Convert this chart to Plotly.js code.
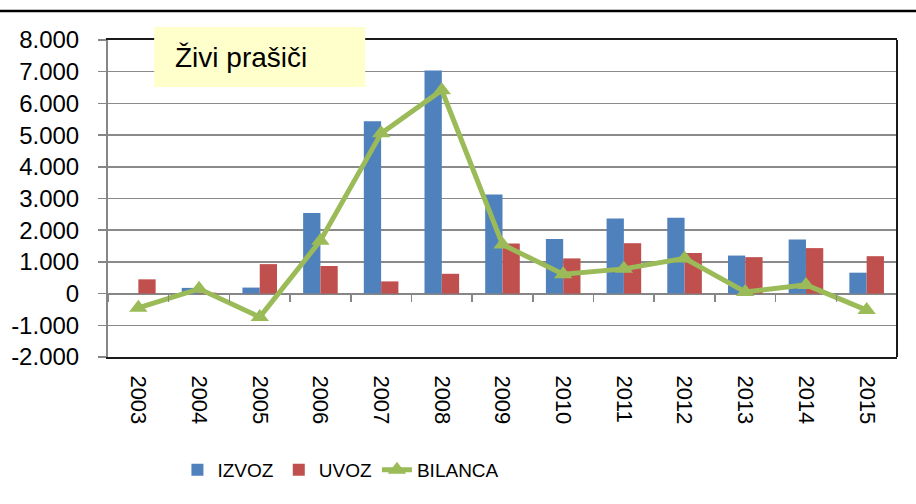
<!DOCTYPE html>
<html>
<head>
<meta charset="utf-8">
<script src="https://cdn.plot.ly/plotly-3.0.1.min.js"></script>
<style>html,body{margin:0;padding:0;background:#fff;}#chart{width:916px;height:504px;}</style>
</head>
<body>
<div id="chart"></div>
<script>
var years = ['2003','2004','2005','2006','2007','2008','2009','2010','2011','2012','2013','2014','2015'];
var izvoz = [0, 180, 190, 2540, 5440, 7040, 3130, 1720, 2370, 2390, 1200, 1710, 660];
var uvoz = [450, 30, 930, 870, 385, 625, 1580, 1110, 1590, 1280, 1150, 1435, 1180];
var bilanca = [-450, 150, -740, 1670, 5055, 6415, 1550, 610, 780, 1110, 50, 275, -520];
var yTickVals = [-2000, -1000, 0, 1000, 2000, 3000, 4000, 5000, 6000, 7000, 8000];
var yTickText = ['-2.000', '-1.000', '0', '1.000', '2.000', '3.000', '4.000', '5.000', '6.000', '7.000', '8.000'];
var chartTitle = 'Živi prašiči';

var FONT = 'Liberation Sans, Arial, sans-serif';

var traces = [
  {type:'bar', name:'IZVOZ', x:years, y:izvoz, marker:{color:'#4F81BD'}, hoverinfo:'x+y'},
  {type:'bar', name:'UVOZ', x:years, y:uvoz, marker:{color:'#C0504D'}, hoverinfo:'x+y'},
  {type:'scatter', mode:'lines+markers', name:'BILANCA', x:years, y:bilanca,
   line:{color:'#9BBB59', width:5}, marker:{symbol:'triangle-up', size:16, color:'#9BBB59'}},
  {type:'scatter', mode:'markers', x:years, y:years.map(function(){return null;}), xaxis:'x2', yaxis:'y',
   showlegend:false, hoverinfo:'skip', marker:{opacity:0}}
];

var layout = {
  width:916, height:504,
  margin:{l:108, r:19, t:40, b:147},
  paper_bgcolor:'#ffffff', plot_bgcolor:'#ffffff',
  font:{family:FONT, color:'#000', size:22},
  barmode:'group', bargap:0.43, bargroupgap:0,
  showlegend:true,
  legend:{orientation:'h', x:0.088, xanchor:'left', y:-0.356, yanchor:'middle',
          font:{family:FONT, size:19, color:'#000'}, itemwidth:30, tracegroupgap:0},
  xaxis:{type:'category', categoryarray:years, range:[-0.5, 12.5], showgrid:false,
         showline:true, linecolor:'#1a1a1a', linewidth:2, mirror:true,
         ticks:'outside', ticklen:12, tickcolor:'rgba(0,0,0,0)', tickangle:90,
         tickfont:{family:FONT, size:22, color:'#000'}, zeroline:false, fixedrange:true},
  xaxis2:{type:'category', categoryarray:years, range:[-0.5, 12.5], overlaying:'x', anchor:'free', position:0.2,
          showgrid:false, showline:false, showticklabels:false, ticks:'outside', tickson:'boundaries',
          ticklen:7, tickwidth:1.5, tickcolor:'#868686', zeroline:false, fixedrange:true},
  yaxis:{range:[-2000, 8000], tickvals:yTickVals, ticktext:yTickText,
         showgrid:true, gridcolor:'#8a8a8a', gridwidth:1.5,
         zeroline:true, zerolinecolor:'#868686', zerolinewidth:2,
         showline:true, linecolor:'#868686', linewidth:2,
         ticks:'outside', ticklen:8, tickwidth:1.5, tickcolor:'#868686', ticklabelstandoff:14,
         tickfont:{family:FONT, size:24, color:'#000'}, fixedrange:true},
  shapes:[
    {type:'line', xref:'paper', yref:'paper', x0:1, x1:1, y0:0, y1:1, line:{color:'#1a1a1a', width:2}},
    {type:'line', xref:'paper', yref:'paper', x0:-0.14, x1:1.03, y0:1.0915, y1:1.0915, line:{color:'#000', width:2.5}},
    {type:'rect', xref:'paper', yref:'paper', x0:0.0585, x1:0.326, y0:0.8517, y1:1.041, layer:'above',
     fillcolor:'#FFFFCC', line:{width:0}}
  ],
  annotations:[
    {text:chartTitle, xref:'paper', yref:'paper', x:0.0824, y:0.944, xanchor:'left', yanchor:'middle',
     showarrow:false, font:{family:FONT, size:28, color:'#000'}}
  ]
};

Plotly.newPlot('chart', traces, layout, {displayModeBar:false, staticPlot:true});
</script>
</body>
</html>
